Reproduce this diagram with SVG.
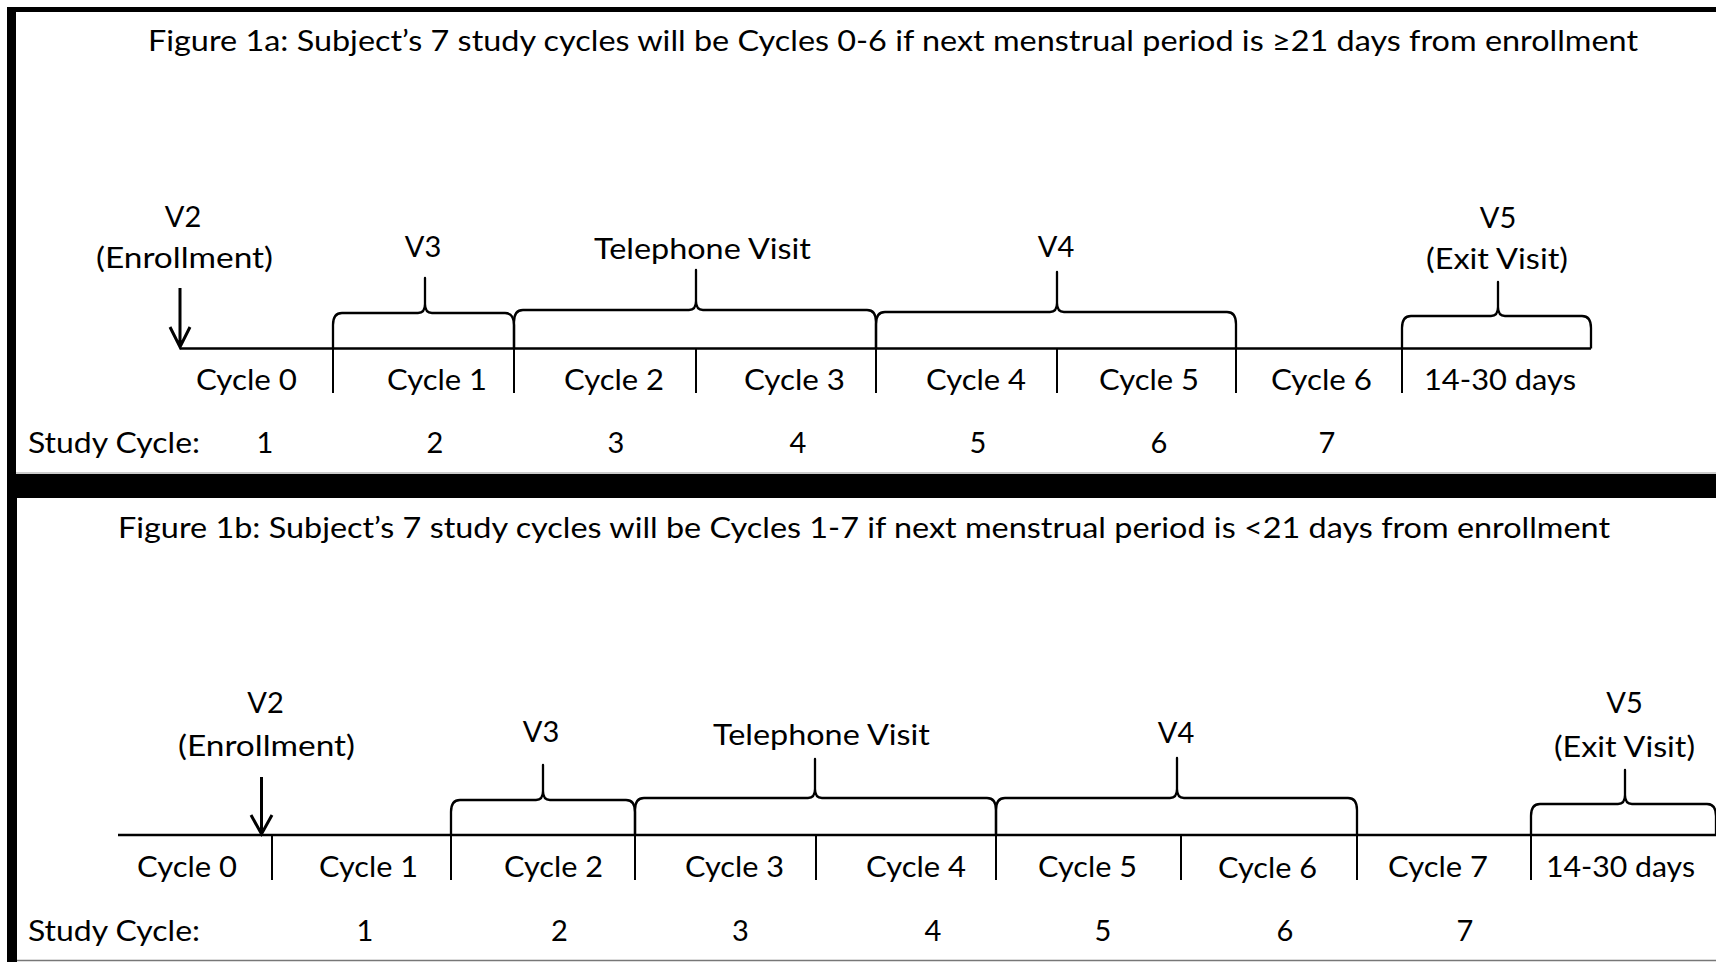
<svg xmlns="http://www.w3.org/2000/svg" width="1716" height="962" viewBox="0 0 1716 962">
<style>
.t{font-family:Lato,"Liberation Sans",sans-serif;fill:#000;}
.ti{font-size:28px;}
.lb{font-size:29px;}
.c{text-anchor:middle;}
.ln{fill:none;stroke:#000;stroke-width:2.3;stroke-linejoin:round;stroke-linecap:butt;}
.tl{fill:none;stroke:#000;stroke-width:2.6;}
.tk{fill:none;stroke:#000;stroke-width:2;}
.ar{fill:none;stroke:#000;stroke-width:3;stroke-linejoin:miter;}
</style>
<rect x="0" y="0" width="1716" height="962" fill="#fff"/>
<g id="frame">
<rect x="7" y="7" width="9" height="955" fill="#000"/>
<rect x="7" y="7" width="1709" height="5" fill="#000"/>
<rect x="7" y="474" width="1709" height="24" fill="#000"/>
<rect x="7" y="498" width="10" height="464" fill="#000"/>
<line x1="17" y1="960.5" x2="1716" y2="960.5" stroke="#777" stroke-width="1.5"/>
<line x1="16" y1="473" x2="1716" y2="473" stroke="#999" stroke-width="1"/>
</g>
<g id="connectors">
<line class="tl" x1="180" y1="348.5" x2="1591" y2="348.5"/>
<g id="ticks-a">
<line class="tk" x1="333" y1="348" x2="333" y2="393"/>
<line class="tk" x1="514" y1="348" x2="514" y2="393"/>
<line class="tk" x1="696" y1="348" x2="696" y2="393"/>
<line class="tk" x1="876" y1="348" x2="876" y2="393"/>
<line class="tk" x1="1057" y1="348" x2="1057" y2="393"/>
<line class="tk" x1="1236" y1="348" x2="1236" y2="393"/>
<line class="tk" x1="1402" y1="348" x2="1402" y2="393"/>
</g>
<path class="ar" d="M180,288 L180,346 M170,327 L180,347 L190,327"/>
<path class="ln" d="M333,348.5 L333,325 Q333,313 342,313 L418,313 Q425,313 425,304 L425,278 L425,304 Q425,313 432,313 L505,313 Q514,313 514,325 L514,348.5"/>
<path class="ln" d="M514,348.5 L514,322 Q514,310 523,310 L689,310 Q696,310 696,301 L696,270 L696,301 Q696,310 703,310 L867,310 Q876,310 876,322 L876,348.5"/>
<path class="ln" d="M876,348.5 L876,324 Q876,312 885,312 L1050,312 Q1057,312 1057,303 L1057,272 L1057,303 Q1057,312 1064,312 L1227,312 Q1236,312 1236,324 L1236,348.5"/>
<path class="ln" d="M1402,348.5 L1402,328 Q1402,316 1411,316 L1491,316 Q1498,316 1498,307 L1498,282 L1498,307 Q1498,316 1505,316 L1582,316 Q1591,316 1591,328 L1591,348.5"/>

<line class="tl" x1="118" y1="835" x2="1716" y2="835"/>
<g id="ticks-b">
<line class="tk" x1="272" y1="835" x2="272" y2="880"/>
<line class="tk" x1="451" y1="835" x2="451" y2="880"/>
<line class="tk" x1="635" y1="835" x2="635" y2="880"/>
<line class="tk" x1="816" y1="835" x2="816" y2="880"/>
<line class="tk" x1="996" y1="835" x2="996" y2="880"/>
<line class="tk" x1="1181" y1="835" x2="1181" y2="880"/>
<line class="tk" x1="1357" y1="835" x2="1357" y2="880"/>
<line class="tk" x1="1531" y1="835" x2="1531" y2="880"/>
</g>
<path class="ar" d="M261.5,777 L261.5,832 M251,815 L261.5,834 L272,815"/>
<path class="ln" d="M451,835 L451,812 Q451,800 460,800 L536,800 Q543,800 543,791 L543,765 L543,791 Q543,800 550,800 L626,800 Q635,800 635,812 L635,835"/>
<path class="ln" d="M635,835 L635,810 Q635,798 644,798 L808,798 Q815,798 815,789 L815,759 L815,789 Q815,798 822,798 L987,798 Q996,798 996,810 L996,835"/>
<path class="ln" d="M996,835 L996,810 Q996,798 1005,798 L1170,798 Q1177,798 1177,789 L1177,758 L1177,789 Q1177,798 1184,798 L1348,798 Q1357,798 1357,810 L1357,835"/>
<path class="ln" d="M1531,835 L1531,816 Q1531,804 1540,804 L1618,804 Q1625,804 1625,795 L1625,770 L1625,795 Q1625,804 1632,804 L1707,804 Q1716,804 1716,816 L1716,835"/>
</g>

<g id="panel-a">
<text id="title-a" class="t ti" x="148" y="51" textLength="1490" lengthAdjust="spacingAndGlyphs">Figure 1a: Subject’s 7 study cycles will be Cycles 0-6 if next menstrual period is ≥21 days from enrollment</text>
<g id="a-v2"><text class="t lb c" x="183" y="227">V2</text><text class="t lb" x="96" y="268" textLength="177" lengthAdjust="spacingAndGlyphs">(Enrollment)</text></g>
<g id="a-v3"><text class="t lb c" x="423" y="257">V3</text></g>
<g id="a-tel"><text class="t lb" x="594" y="259" textLength="217" lengthAdjust="spacingAndGlyphs">Telephone Visit</text></g>
<g id="a-v4"><text class="t lb c" x="1056" y="257">V4</text></g>
<g id="a-v5"><text class="t lb c" x="1498" y="228">V5</text><text class="t lb" x="1426" y="269" textLength="142" lengthAdjust="spacingAndGlyphs">(Exit Visit)</text></g>
<g id="a-cycles">
<text class="t lb" x="196" y="390" textLength="101" lengthAdjust="spacingAndGlyphs">Cycle 0</text>
<text class="t lb" x="387" y="390" textLength="100" lengthAdjust="spacingAndGlyphs">Cycle 1</text>
<text class="t lb" x="564" y="390" textLength="100" lengthAdjust="spacingAndGlyphs">Cycle 2</text>
<text class="t lb" x="744" y="390" textLength="101" lengthAdjust="spacingAndGlyphs">Cycle 3</text>
<text class="t lb" x="926" y="390" textLength="100" lengthAdjust="spacingAndGlyphs">Cycle 4</text>
<text class="t lb" x="1099" y="390" textLength="100" lengthAdjust="spacingAndGlyphs">Cycle 5</text>
<text class="t lb" x="1271" y="390" textLength="101" lengthAdjust="spacingAndGlyphs">Cycle 6</text>
<text class="t lb" x="1424" y="390" textLength="152" lengthAdjust="spacingAndGlyphs">14-30 days</text>
</g>
<g id="a-study">
<text class="t lb" x="28" y="453" textLength="172" lengthAdjust="spacingAndGlyphs">Study Cycle:</text>
<text class="t lb c" x="265" y="453">1</text>
<text class="t lb c" x="435" y="453">2</text>
<text class="t lb c" x="616" y="453">3</text>
<text class="t lb c" x="798" y="453">4</text>
<text class="t lb c" x="978" y="453">5</text>
<text class="t lb c" x="1159" y="453">6</text>
<text class="t lb c" x="1327" y="453">7</text>
</g>
</g>

<g id="panel-b">
<text id="title-b" class="t ti" x="118" y="538" textLength="1492" lengthAdjust="spacingAndGlyphs">Figure 1b: Subject’s 7 study cycles will be Cycles 1-7 if next menstrual period is &lt;21 days from enrollment</text>
<g id="b-v2"><text class="t lb c" x="265.5" y="713">V2</text><text class="t lb" x="178" y="756" textLength="177" lengthAdjust="spacingAndGlyphs">(Enrollment)</text></g>
<g id="b-v3"><text class="t lb c" x="541" y="742">V3</text></g>
<g id="b-tel"><text class="t lb" x="713" y="745" textLength="217" lengthAdjust="spacingAndGlyphs">Telephone Visit</text></g>
<g id="b-v4"><text class="t lb c" x="1176" y="743">V4</text></g>
<g id="b-v5"><text class="t lb c" x="1624.5" y="713">V5</text><text class="t lb" x="1554" y="757" textLength="141" lengthAdjust="spacingAndGlyphs">(Exit Visit)</text></g>
<g id="b-cycles">
<text class="t lb" x="137" y="877" textLength="100" lengthAdjust="spacingAndGlyphs">Cycle 0</text>
<text class="t lb" x="319" y="877" textLength="99" lengthAdjust="spacingAndGlyphs">Cycle 1</text>
<text class="t lb" x="504" y="877" textLength="99" lengthAdjust="spacingAndGlyphs">Cycle 2</text>
<text class="t lb" x="685" y="877" textLength="99" lengthAdjust="spacingAndGlyphs">Cycle 3</text>
<text class="t lb" x="866" y="877" textLength="100" lengthAdjust="spacingAndGlyphs">Cycle 4</text>
<text class="t lb" x="1038" y="877" textLength="99" lengthAdjust="spacingAndGlyphs">Cycle 5</text>
<text class="t lb" x="1218" y="878" textLength="99" lengthAdjust="spacingAndGlyphs">Cycle 6</text>
<text class="t lb" x="1388" y="877" textLength="100" lengthAdjust="spacingAndGlyphs">Cycle 7</text>
<text class="t lb" x="1546" y="877" textLength="149" lengthAdjust="spacingAndGlyphs">14-30 days</text>
</g>
<g id="b-study">
<text class="t lb" x="28" y="941" textLength="172" lengthAdjust="spacingAndGlyphs">Study Cycle:</text>
<text class="t lb c" x="365" y="941">1</text>
<text class="t lb c" x="559.5" y="941">2</text>
<text class="t lb c" x="740.5" y="941">3</text>
<text class="t lb c" x="933" y="941">4</text>
<text class="t lb c" x="1103" y="941">5</text>
<text class="t lb c" x="1285" y="941">6</text>
<text class="t lb c" x="1465" y="941">7</text>
</g>
</g>
</svg>
